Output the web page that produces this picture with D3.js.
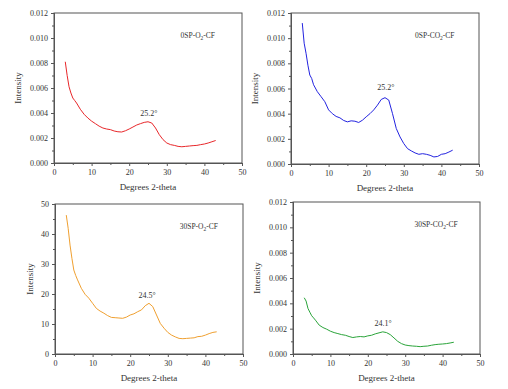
<!DOCTYPE html>
<meta charset="utf-8">
<style>
body { margin: 0; background: #fff; }
text { font-family: "Liberation Serif", "Times New Roman", serif; fill: #333; }
</style>
<body>
<script src="https://cdn.jsdelivr.net/npm/d3@7"></script>
<script>

// 2-theta positions shared by all four curves
let theta = [3, 3.5, 4, 4.5, 5, 5.5, 6, 7, 8, 9, 10, 11, 12, 13, 14, 15, 16, 17, 18, 19, 20,
  21, 22, 23, 24, 25, 26, 27, 28, 29, 30, 31, 32, 33, 34, 35, 36, 37, 38, 39, 40, 41, 42, 43];

// intensities (top panels and bottom-right in units of 0.001)
let o2_0sp = [8.1, 7.0, 6.1, 5.6, 5.2, 5.0, 4.8, 4.3, 3.9, 3.6, 3.35, 3.15, 2.95, 2.8, 2.72, 2.67, 2.56, 2.5, 2.48, 2.58, 2.72,
  2.88, 3.04, 3.15, 3.25, 3.3, 3.2, 2.8, 2.27, 1.87, 1.6, 1.47, 1.41, 1.33, 1.3, 1.33, 1.36, 1.39, 1.41, 1.47, 1.52, 1.6, 1.7, 1.8];
let co2_0sp = [11.2, 9.6, 8.8, 7.85, 7.07, 6.8, 6.3, 5.75, 5.35, 4.95, 4.3, 4.0, 3.78, 3.67, 3.46, 3.35, 3.43, 3.4, 3.3, 3.48, 3.75,
  4.0, 4.3, 4.68, 5.13, 5.27, 5.08, 4.0, 2.82, 2.15, 1.62, 1.22, 1.04, 0.88, 0.77, 0.82, 0.77, 0.69, 0.56, 0.6, 0.77, 0.82, 0.95, 1.1];
let o2_30sp = [46.3, 41.9, 36.3, 31.9, 28, 26.2, 24.7, 21.9, 19.9, 18.6, 16.9, 15.2, 14.3, 13.6, 12.8, 12.2, 12.1, 12.0, 11.9, 12.3, 13.0,
  13.4, 14.1, 14.7, 16.1, 16.9, 15.8, 13.0, 10.2, 8.6, 7.2, 6.3, 5.7, 5.2, 5.1, 5.2, 5.3, 5.4, 5.8, 5.9, 6.3, 6.8, 7.2, 7.4];
let co2_30sp = [4.44, 4.18, 3.6, 3.3, 3.02, 2.85, 2.67, 2.28, 2.09, 1.96, 1.8, 1.69, 1.61, 1.53, 1.48, 1.38, 1.3, 1.35, 1.38, 1.35, 1.43,
  1.48, 1.59, 1.67, 1.75, 1.69, 1.53, 1.27, 1.0, 0.82, 0.71, 0.66, 0.63, 0.61, 0.58, 0.61, 0.63, 0.69, 0.74, 0.77, 0.79, 0.82, 0.87, 0.93];

let peakLabels = ["25.2°", "25.2°", "24.5°", "24.1°"];
let peakX = [25.2, 25.2, 24.5, 24.1];
let peakY = [3.8, 5.9, 18.8, 2.2];

let sampleNames = [["0SP-O", "-CF"], ["0SP-CO", "-CF"], ["30SP-O", "-CF"], ["30SP-CO", "-CF"]];
let yMax = [0.012, 0.012, 50, 0.012];
let yScaleFactor = [0.001, 0.001, 1, 0.001];
let colors = ["#e8272a", "#2323e0", "#f0a030", "#2aa43a"];

let width = 508, height = 389;
let svg = d3.select('body').append('svg')
  .attr('width', width)
  .attr('height', height);

// plot boxes [left, right, top, bottom]
let boxes = [[54, 242, 13, 163], [291, 479, 13, 164], [55, 243, 204, 354], [293, 480, 202, 354]];
let series = [o2_0sp, co2_0sp, o2_30sp, co2_30sp];

let drawPanel = function(i) {
  let b = boxes[i];
  let x = d3.scaleLinear().domain([0, 50]).range([b[0], b[1]]);
  let y = d3.scaleLinear().domain([0, yMax[i]]).range([b[3], b[2]]);
  let g = svg.append('g');
  let isBig = yMax[i] > 1;
  let yTicks = isBig ? d3.range(0, 51, 10) : d3.range(0, 0.0121, 0.002);
  let yMinor = isBig ? d3.range(5, 50, 10) : d3.range(0.001, 0.012, 0.002);

  // frame
  g.append('rect')
    .attr('x', b[0]).attr('y', b[2])
    .attr('width', b[1] - b[0]).attr('height', b[3] - b[2])
    .attr('fill', 'none').attr('stroke', '#555').attr('stroke-width', 1);

  let xAxis = g.append('g')
    .attr('transform', 'translate(0,' + b[3] + ')')
    .call(d3.axisBottom(x).tickValues([0, 10, 20, 30, 40, 50]).tickSize(3).tickPadding(3));
  g.append('g')
    .attr('transform', 'translate(0,' + b[3] + ')')
    .call(d3.axisBottom(x).tickValues([5, 15, 25, 35, 45]).tickSize(2).tickFormat(''));
  let yAxis = g.append('g')
    .attr('transform', 'translate(' + b[0] + ',0)')
    .call(d3.axisLeft(y).tickValues(yTicks).tickSize(3).tickPadding(3)
      .tickFormat(isBig ? d3.format('d') : d3.format('.3f')));
  g.append('g')
    .attr('transform', 'translate(' + b[0] + ',0)')
    .call(d3.axisLeft(y).tickValues(yMinor).tickSize(2).tickFormat(''));
  g.selectAll('.domain').attr('stroke', '#555');
  g.selectAll('.tick line').attr('stroke', '#555');
  g.selectAll('.tick text').style('font-size', '8px').attr('fill', '#333');

  // curve
  let pts = theta.map((t, k) => [t, series[i][k] * yScaleFactor[i]]);
  let line = d3.line().x(d => x(d[0])).y(d => y(d[1]));
  g.append('path')
    .datum(pts)
    .attr('d', line)
    .attr('fill', 'none')
    .attr('stroke', colors[i])
    .attr('stroke-width', 1);

  // peak label
  g.append('text')
    .attr('x', x(peakX[i]))
    .attr('y', y(peakY[i] * yScaleFactor[i]))
    .attr('text-anchor', 'middle')
    .style('font-size', '8px')
    .text(peakLabels[i]);

  // sample name with subscript 2
  let name = g.append('text')
    .attr('x', b[0] + (b[1] - b[0]) * 0.765)
    .attr('y', b[2] + 25)
    .attr('text-anchor', 'middle')
    .style('font-size', '7.5px');
  name.append('tspan').text(sampleNames[i][0]);
  name.append('tspan').attr('dy', 2).style('font-size', '5.5px').text('2');
  name.append('tspan').attr('dy', -2).text(sampleNames[i][1]);

  // axis titles
  g.append('text')
    .attr('x', (b[0] + b[1]) / 2)
    .attr('y', b[3] + 27)
    .attr('text-anchor', 'middle')
    .style('font-size', '9px')
    .text('Degrees 2-theta');
  g.append('text')
    .attr('transform', 'translate(' + (isBig ? b[0] - 22 : b[0] - 33) + ',' + (b[2] + b[3]) / 2 + ') rotate(-90)')
    .attr('text-anchor', 'middle')
    .style('font-size', '9px')
    .text('Intensity');
}

for (let i = 0; i < 4; i++) drawPanel(i);

</script>
</body>
